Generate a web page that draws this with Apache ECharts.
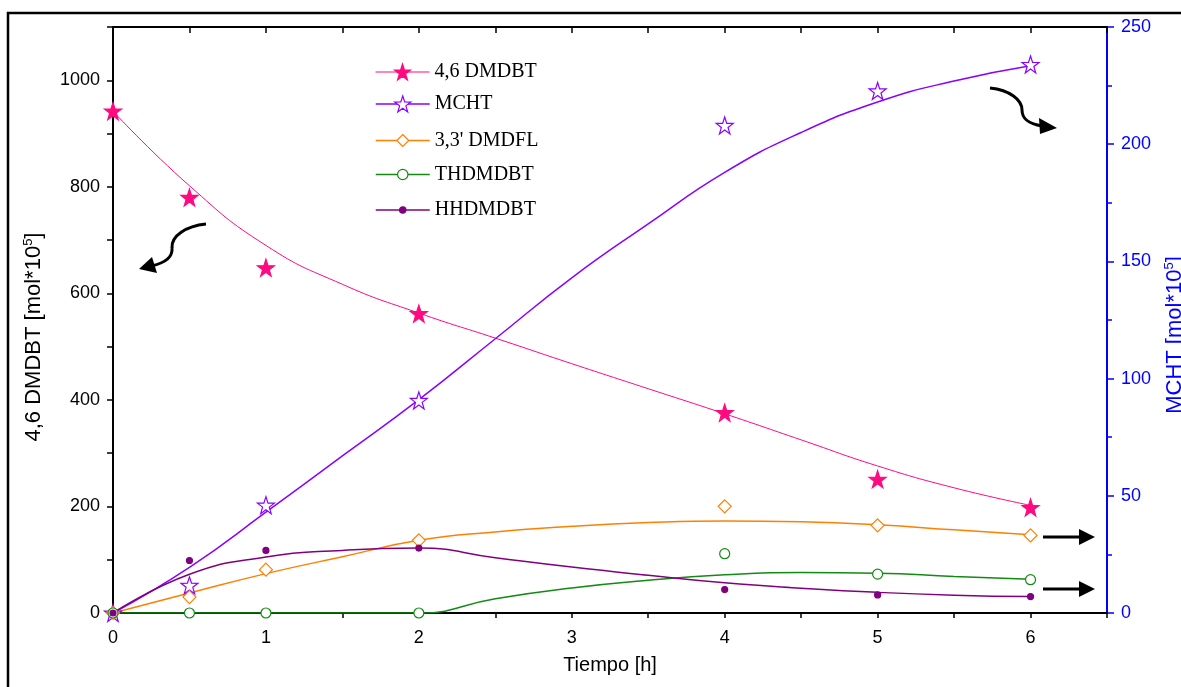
<!DOCTYPE html>
<html>
<head>
<meta charset="utf-8">
<script src="https://cdn.jsdelivr.net/npm/echarts@6/dist/echarts.min.js"></script>
<style>
html,body{margin:0;padding:0;background:#fff;}
#c{width:1181px;height:687px;}
</style>
</head>
<body>
<div id="c"></div>
<script>
// ---- data ----
const timeH = [0, 0.5, 1, 2, 4, 5, 6];
const dmdbt = [942, 780, 648, 562, 376, 251, 198];      // left axis
const mcht = [0, 11.8, 46, 90.7, 208, 222.7, 234];       // right axis
const dmdfl = [0, 6.8, 18.5, 31, 45.5, 37.4, 33.1];      // right axis
const thdmdbt = [0, 0, 0, 0, 25.3, 16.6, 14.2];          // right axis
const hhdmdbt = [0, 22.4, 26.7, 27.7, 10, 7.7, 7];       // right axis

// fitted curves
const fitTime = [0, 0.5, 1, 1.5, 2, 2.5, 3, 3.5, 4, 4.5, 5, 5.5, 6];
const dmdbtFit = [942, 802, 690, 617, 563, 516, 468, 421, 374, 325, 276, 235, 202];
const mchtFit = [0, 19.5, 43, 67, 91, 117, 143, 166, 188, 205, 218, 227, 233.5];
const dmdflFit = [0, 8.5, 16.8, 24, 31, 34.6, 37, 38.6, 39.3, 38.9, 37.6, 35.5, 33.4];
const thdmdbtFit = [0, 0, 0, 0, 0, 6.1, 10.7, 14, 16.3, 17.3, 17.0, 15.6, 14.4];
const hhdmdbtFit = [0, 16.5, 23.9, 26.7, 27.7, 23.6, 19.6, 16.1, 12.9, 10.6, 8.8, 7.6, 7.0];

const names = ['4,6 DMDBT', 'MCHT', "3,3' DMDFL", 'THDMDBT', 'HHDMDBT'];
const leftLabels = [0, 200, 400, 600, 800, 1000];

const STAR = 'path://M12,0 L14.9,8.6 L24,8.7 L16.7,14.1 L19.4,22.9 L12,17.6 L4.6,22.9 L7.3,14.1 L0,8.7 L9.1,8.6 Z';
const pair = (xs, ys) => xs.map((x, i) => [x, ys[i]]);

const cfg = [
  {name: names[0], pts: dmdbt, fit: dmdbtFit, axis: 0, color: '#ff0a80', sym: STAR, size: 17, fill: '#ff0a80', lw: 1, legH: 20},
  {name: names[1], pts: mcht, fit: mchtFit, axis: 1, color: '#8b00ff', sym: STAR, size: 17, fill: '#fff', lw: 1.5, legH: 20},
  {name: names[2], pts: dmdfl, fit: dmdflFit, axis: 1, color: '#ff8000', sym: 'diamond', size: 13, fill: '#fff', lw: 1.5, legH: 15},
  {name: names[3], pts: thdmdbt, fit: thdmdbtFit, axis: 1, color: '#138a13', sym: 'circle', size: 10, fill: '#fff', lw: 1.5, legH: 13},
  {name: names[4], pts: hhdmdbt, fit: hhdmdbtFit, axis: 1, color: '#800080', sym: 'circle', size: 6, fill: '#800080', lw: 1.5, legH: 8}
];
const legRows = [72, 104, 138, 171, 204];

const series = [];
cfg.forEach(c => {
  series.push({
    type: 'line', name: c.name, yAxisIndex: c.axis, xAxisIndex: 0,
    data: pair(fitTime, c.fit), smooth: 0.5, showSymbol: false,
    symbol: c.sym, symbolSize: c.size,
    lineStyle: {color: c.color, width: c.lw},
    itemStyle: {color: c.fill, borderColor: c.color, borderWidth: 1},
    emphasis: {disabled: true}, silent: true, z: 2
  });
});
cfg.forEach(c => {
  series.push({
    type: 'scatter', name: c.name, yAxisIndex: c.axis, xAxisIndex: 0,
    data: pair(timeH, c.pts), symbol: c.sym, symbolSize: c.size,
    itemStyle: {color: c.fill, borderColor: c.color, borderWidth: 1.2, opacity: 1},
    emphasis: {disabled: true}, silent: true, z: 3
  });
});

const legends = cfg.map((c, i) => ({
  data: [c.name], left: 375, top: legRows[i] - c.legH / 2, padding: 0,
  itemWidth: 54, itemHeight: c.legH, selectedMode: false,
  itemStyle: {color: c.fill, borderColor: c.color, borderWidth: 1.2},
  lineStyle: {color: c.color, width: c.lw},
  textStyle: {fontFamily: 'Liberation Serif', fontSize: 20, color: '#000'}
}));

const lbl = {fontFamily: 'Liberation Sans', fontSize: 18, color: '#000'};

const chart = echarts.init(document.getElementById('c'));
chart.setOption({
  animation: false,
  backgroundColor: '#fff',
  grid: {left: 113, right: 74, top: 27, bottom: 74, containLabel: false, outerBoundsMode: 'none'},
  legend: legends,
  xAxis: [
    {type: 'value', min: 0, max: 6.5, interval: 0.5, position: 'bottom',
     axisLine: {show: true, onZero: false, lineStyle: {color: '#000', width: 2}},
     axisTick: {show: true, inside: false, length: 5, lineStyle: {color: '#000', width: 1.5}},
     axisLabel: Object.assign({margin: 16, formatter: v => Number.isInteger(v) && v <= 6 ? String(v) : ''}, lbl),
     splitLine: {show: false},
     name: 'Tiempo [h]', nameLocation: 'middle', nameGap: 42,
     nameTextStyle: {fontFamily: 'Liberation Sans', fontSize: 20, color: '#000'}},
    {type: 'value', min: 0, max: 6.5, interval: 0.5, position: 'top',
     axisLine: {show: true, onZero: false, lineStyle: {color: '#000', width: 2}},
     axisTick: {show: true, inside: true, length: 6, lineStyle: {color: '#000', width: 1.5}},
     axisLabel: {show: false}, splitLine: {show: false}}
  ],
  yAxis: [
    {type: 'value', min: 0, max: 1100, interval: 100, position: 'left',
     axisLine: {show: true, onZero: false, lineStyle: {color: '#000', width: 2}},
     axisTick: {show: true, inside: false, length: 6, lineStyle: {color: '#000', width: 1.5}},
     axisLabel: Object.assign({margin: 13, formatter: v => leftLabels.indexOf(v) >= 0 ? String(v) : ''}, lbl),
     splitLine: {show: false},
     name: '{a|4,6 DMDBT [mol*10}{s|5}{a|]}', nameLocation: 'middle', nameRotate: 90, nameGap: 67,
     nameTextStyle: {padding: [0, 34, 0, 0], rich: {
       a: {fontFamily: 'Liberation Sans', fontSize: 22, color: '#000', lineHeight: 24},
       s: {fontFamily: 'Liberation Sans', fontSize: 13, color: '#000', verticalAlign: 'top', lineHeight: 14}}}},
    {type: 'value', min: 0, max: 250, interval: 50, position: 'right',
     axisLine: {show: true, onZero: false, lineStyle: {color: '#0000ff', width: 2}},
     axisTick: {show: true, inside: false, length: 7, lineStyle: {color: '#0000ff', width: 1.5}},
     minorTick: {show: true, splitNumber: 2, length: 5, lineStyle: {color: '#0000ff', width: 1.5}},
     axisLabel: Object.assign({}, lbl, {color: '#0000ff', margin: 14}),
     splitLine: {show: false},
     name: '{a|MCHT [mol*10}{s|5}{a|]}', nameLocation: 'middle', nameRotate: 90, nameGap: 56,
     nameTextStyle: {padding: [0, 30, 0, 0], rich: {
       a: {fontFamily: 'Liberation Sans', fontSize: 22, color: '#0000ff', lineHeight: 24},
       s: {fontFamily: 'Liberation Sans', fontSize: 13, color: '#0000ff', verticalAlign: 'top', lineHeight: 14}}}}
  ],
  series: series,
  graphic: [
    {type: 'rect', silent: true, z: 0, shape: {x: 8, y: 13, width: 1200, height: 720},
     style: {fill: 'none', stroke: '#000', lineWidth: 2.5}},
    // curved arrow to the left axis
    {type: 'bezierCurve', silent: true, shape: {x1: 206, y1: 224, cpx1: 186, cpy1: 226, cpx2: 171, cpy2: 236, x2: 172, y2: 248},
     style: {fill: 'none', stroke: '#000', lineWidth: 3}},
    {type: 'bezierCurve', silent: true, shape: {x1: 172, y1: 248, cpx1: 173, cpy1: 258, cpx2: 165, cpy2: 263, x2: 151, y2: 266},
     style: {fill: 'none', stroke: '#000', lineWidth: 3}},
    {type: 'polygon', silent: true, shape: {points: [[139, 269], [152, 257], [157, 273]]}, style: {fill: '#000'}},
    // curved arrow to the right axis
    {type: 'bezierCurve', silent: true, shape: {x1: 990, y1: 88, cpx1: 1010, cpy1: 90, cpx2: 1022, cpy2: 100, x2: 1022, y2: 110},
     style: {fill: 'none', stroke: '#000', lineWidth: 3}},
    {type: 'bezierCurve', silent: true, shape: {x1: 1022, y1: 110, cpx1: 1022, cpy1: 120, cpx2: 1030, cpy2: 124, x2: 1042, y2: 126},
     style: {fill: 'none', stroke: '#000', lineWidth: 3}},
    {type: 'polygon', silent: true, shape: {points: [[1057, 128], [1039, 118], [1040, 134]]}, style: {fill: '#000'}},
    // straight arrows
    {type: 'line', silent: true, shape: {x1: 1043, y1: 537, x2: 1081, y2: 537}, style: {stroke: '#000', lineWidth: 3}},
    {type: 'polygon', silent: true, shape: {points: [[1095, 537], [1079, 529], [1079, 545]]}, style: {fill: '#000'}},
    {type: 'line', silent: true, shape: {x1: 1043, y1: 589, x2: 1081, y2: 589}, style: {stroke: '#000', lineWidth: 3}},
    {type: 'polygon', silent: true, shape: {points: [[1095, 589], [1079, 581], [1079, 597]]}, style: {fill: '#000'}}
  ]
});
</script>
</body>
</html>
